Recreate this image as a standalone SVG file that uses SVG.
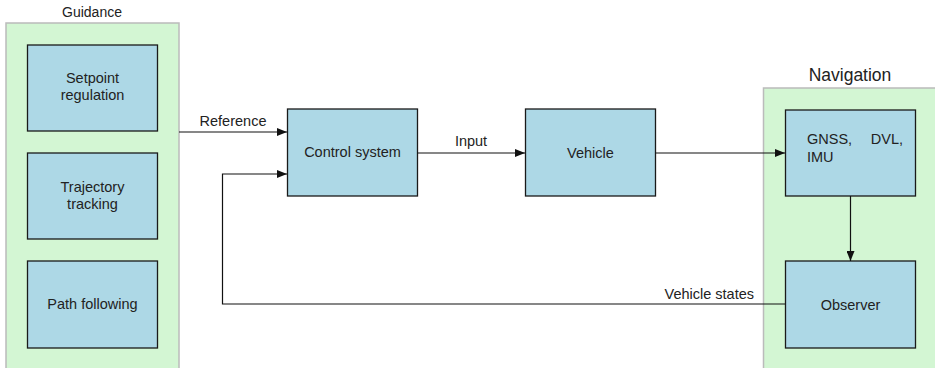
<svg xmlns="http://www.w3.org/2000/svg" width="935" height="368" viewBox="0 0 935 368">
  <style>
    text { font-family: "Liberation Sans", Arial, sans-serif; font-size: 14.5px; fill: #222; }
    .group { fill: #d3f6d3; stroke: #bbbbbb; stroke-width: 1.5; }
    .block { fill: #add8e6; stroke: #1a1a1a; stroke-width: 1.3; }
    .title { font-size: 14px; text-anchor: middle; }
    .c { text-anchor: middle; }
    .wire { fill: none; stroke: #111; stroke-width: 1.2; }
  </style>
  <defs>
    <marker id="arrow" viewBox="0 0 10 8" refX="10" refY="4" markerWidth="10" markerHeight="8" markerUnits="userSpaceOnUse" orient="auto">
      <path d="M0,0 L10,4 L0,8 Z" fill="#111"/>
    </marker>
  </defs>

  <!-- Guidance section -->
  <g id="guidance">
    <rect class="group" x="6" y="23" width="173" height="350"/>
    <text class="title" x="92" y="17">Guidance</text>
  </g>
  <g id="setpoint">
    <rect class="block" x="27.5" y="45" width="130" height="86"/>
    <text class="c" x="92.5" y="83">Setpoint</text>
    <text class="c" x="92.5" y="100">regulation</text>
  </g>
  <g id="trajectory">
    <rect class="block" x="27.5" y="153" width="130" height="86"/>
    <text class="c" x="92.5" y="192">Trajectory</text>
    <text class="c" x="92.5" y="209">tracking</text>
  </g>
  <g id="path-following">
    <rect class="block" x="27.5" y="261" width="130" height="87"/>
    <text class="c" x="92.5" y="309">Path following</text>
  </g>

  <!-- Navigation section -->
  <g id="navigation">
    <rect class="group" x="763.5" y="88" width="180" height="290"/>
    <text class="title" x="850" y="81" style="font-size:17.5px">Navigation</text>
  </g>
  <g id="sensors">
    <rect class="block" x="785.5" y="110" width="130" height="86"/>
    <text x="807" y="144">GNSS,</text>
    <text x="903" y="144" text-anchor="end">DVL,</text>
    <text x="807" y="162">IMU</text>
  </g>
  <g id="observer">
    <rect class="block" x="785.5" y="261" width="130" height="87"/>
    <text class="c" x="850.5" y="310">Observer</text>
  </g>

  <!-- Main loop -->
  <g id="control-system">
    <rect class="block" x="287.5" y="109" width="130" height="87"/>
    <text class="c" x="352.5" y="157">Control system</text>
  </g>
  <g id="vehicle">
    <rect class="block" x="525.5" y="109" width="130" height="87"/>
    <text class="c" x="590.5" y="158">Vehicle</text>
  </g>

  <g id="connectors">
    <path class="wire" d="M179,132 H287" marker-end="url(#arrow)"/>
    <path class="wire" d="M417.5,153 H525" marker-end="url(#arrow)"/>
    <path class="wire" d="M655.5,153 H785" marker-end="url(#arrow)"/>
    <path class="wire" d="M850.5,196 V261" marker-end="url(#arrow)"/>
    <path class="wire" d="M785.5,304 H222.5 V174 H287" marker-end="url(#arrow)"/>
    <text x="233" y="126" class="c">Reference</text>
    <text x="471" y="146" class="c">Input</text>
    <text x="754" y="299" text-anchor="end">Vehicle states</text>
  </g>
</svg>
